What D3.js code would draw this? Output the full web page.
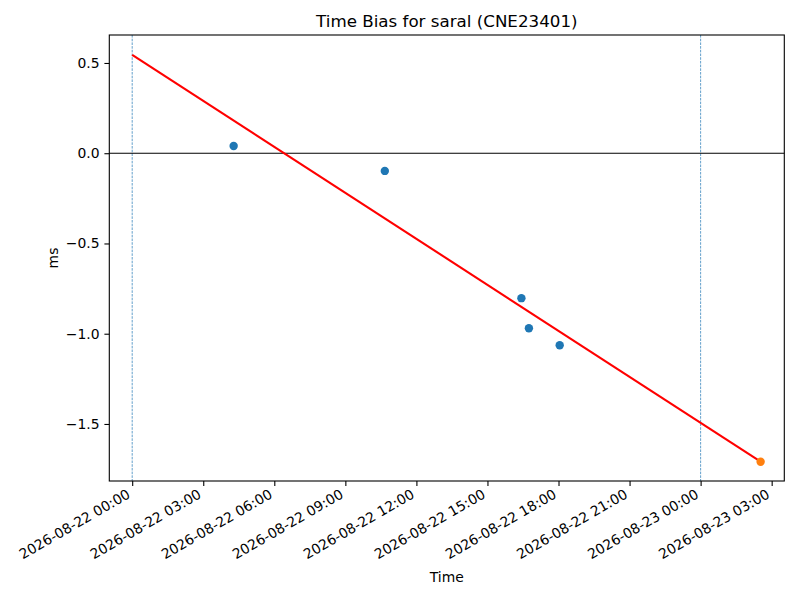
<!DOCTYPE html>
<html>
<head>
<meta charset="utf-8">
<script src="https://cdn.jsdelivr.net/npm/d3@7"></script>
<style>
  body { margin: 0; background: #fff; }
  svg text { font-family: "DejaVu Sans", sans-serif; fill: #000; }
</style>
</head>
<body>
<svg id="chart" width="800" height="600"></svg>
<script>
// ---- data ----
var obsTimes = ["2026-08-22T04:17", "2026-08-22T10:40", "2026-08-22T16:26", "2026-08-22T16:45", "2026-08-22T18:03"]
var obsBias = [0.040, -0.098, -0.803, -0.970, -1.064]

var predTimes = ["2026-08-23T02:32"]
var predBias = [-1.709]

var fitTimes = ["2026-08-22T00:00", "2026-08-23T02:32"]
var fitBias = [0.545, -1.709]

var passTimes = ["2026-08-22T00:00", "2026-08-23T00:00"]

var xTicks = ["2026-08-22T00:00", "2026-08-22T03:00", "2026-08-22T06:00", "2026-08-22T09:00",
  "2026-08-22T12:00", "2026-08-22T15:00", "2026-08-22T18:00", "2026-08-22T21:00",
  "2026-08-23T00:00", "2026-08-23T03:00"]
var yTicks = [-1.5, -1.0, -0.5, 0.0, 0.5]

var xRange = ["2026-08-21T23:02", "2026-08-23T03:32"]
var yRange = [-1.816, 0.655]

// ---- layout ----
var parse = function(s) { return new Date(s + ":00Z") }
var plotL = 109.3, plotR = 784.3, plotT = 35, plotB = 481

var svg = d3.select('#chart')

var x = d3.scaleUtc()
  .domain(xRange.map(parse))
  .range([plotL, plotR])

var y = d3.scaleLinear()
  .domain(yRange)
  .range([plotB, plotT])

var fmtX = d3.utcFormat("%Y-%m-%d %H:%M")
var fmtY = function(v) { return d3.format(".1f")(v).replace("-", "\u2212") }

// vertical pass markers
svg.selectAll('line.pass')
  .data(passTimes)
  .enter().append('line')
  .attr('class', 'pass')
  .attr('x1', function(d) { return x(parse(d)) })
  .attr('x2', function(d) { return x(parse(d)) })
  .attr('y1', plotT)
  .attr('y2', plotB)
  .style('stroke', '#1f77b4')
  .style('stroke-width', 0.7)
  .style('stroke-dasharray', '2.6,1.1')

// zero line
svg.append('line')
  .attr('x1', plotL).attr('x2', plotR)
  .attr('y1', y(0)).attr('y2', y(0))
  .style('stroke', '#000')
  .style('stroke-width', 1.1)

// fit line
var line = d3.line()
  .x(function(d, i) { return x(parse(fitTimes[i])) })
  .y(function(d) { return y(d) })

svg.append('path')
  .datum(fitBias)
  .attr('d', line)
  .style('fill', 'none')
  .style('stroke', 'red')
  .style('stroke-width', 2.1)

// observed points
svg.selectAll('circle.obs')
  .data(obsBias)
  .enter().append('circle')
  .attr('class', 'obs')
  .attr('cx', function(d, i) { return x(parse(obsTimes[i])) })
  .attr('cy', function(d) { return y(d) })
  .attr('r', 4.2)
  .style('fill', '#1f77b4')

// predicted point
svg.selectAll('circle.pred')
  .data(predBias)
  .enter().append('circle')
  .attr('class', 'pred')
  .attr('cx', function(d, i) { return x(parse(predTimes[i])) })
  .attr('cy', function(d) { return y(d) })
  .attr('r', 4.2)
  .style('fill', '#ff7f0e')

// frame
svg.append('rect')
  .attr('x', plotL).attr('y', plotT)
  .attr('width', plotR - plotL).attr('height', plotB - plotT)
  .style('fill', 'none')
  .style('stroke', '#000')
  .style('stroke-width', 1.1)

// x axis
var xAxis = d3.axisBottom(x)
  .tickValues(xTicks.map(parse))
  .tickFormat(fmtX)
  .tickSize(4.9)
  .tickPadding(4.9)

var gx = svg.append('g')
  .attr('transform', 'translate(0,' + plotB + ')')
  .call(xAxis)
gx.select('.domain').remove()
gx.selectAll('.tick line').style('stroke', '#000').style('stroke-width', 1.1)
gx.selectAll('.tick text')
  .style('font-size', '13.9px')
  .style('font-family', '"DejaVu Sans", sans-serif')
  .attr('text-anchor', 'end')
  .attr('dy', null)
  .attr('y', 0)
  .attr('transform', 'translate(-1.5,16) rotate(-30)')

// y axis
var yAxis = d3.axisLeft(y)
  .tickValues(yTicks)
  .tickFormat(fmtY)
  .tickSize(4.9)
  .tickPadding(4.9)

var gy = svg.append('g')
  .attr('transform', 'translate(' + plotL + ',0)')
  .call(yAxis)
gy.select('.domain').remove()
gy.selectAll('.tick line').style('stroke', '#000').style('stroke-width', 1.1)
gy.selectAll('.tick text')
  .style('font-size', '13.9px')
  .style('font-family', '"DejaVu Sans", sans-serif')

// labels
svg.append('text')
  .attr('x', (plotL + plotR) / 2)
  .attr('y', 26.7)
  .attr('text-anchor', 'middle')
  .style('font-size', '16.7px')
  .text('Time Bias for saral (CNE23401)')

svg.append('text')
  .attr('x', (plotL + plotR) / 2)
  .attr('y', 581.5)
  .attr('text-anchor', 'middle')
  .style('font-size', '13.9px')
  .text('Time')

svg.append('text')
  .attr('transform', 'translate(58.3,' + ((plotT + plotB) / 2) + ') rotate(-90)')
  .attr('text-anchor', 'middle')
  .style('font-size', '13.9px')
  .text('ms')
</script>
</body>
</html>
